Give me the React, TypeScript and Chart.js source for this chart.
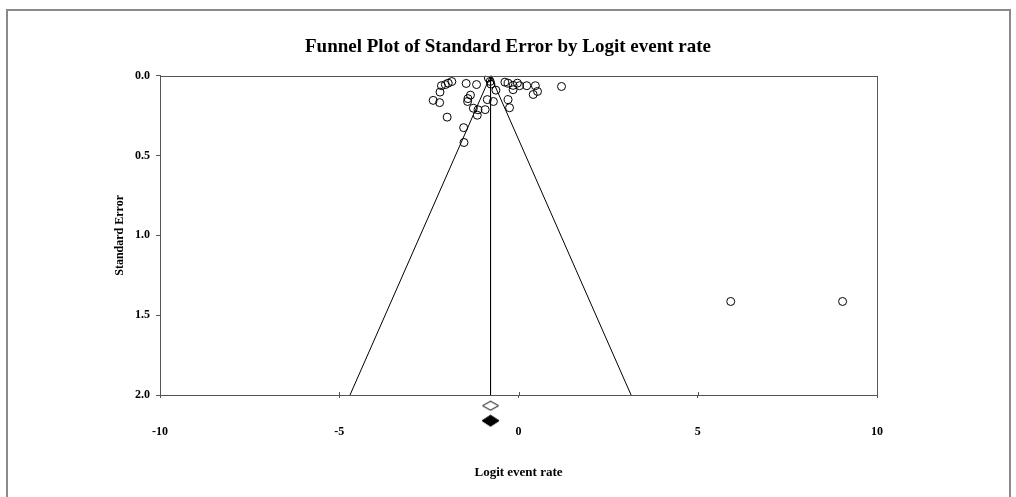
import React, { useEffect, useRef } from "react";
import { Chart, registerables } from "chart.js";

Chart.register(...registerables);

// Study-level data: logit event rate and its standard error
const studyLogit = [
  -0.84, -0.79, -0.77, -0.63, -0.87, -0.70, -0.93, -0.38, -0.29, -0.15,
  -0.03, 0.03, -0.15, 0.23, 0.47, 0.53, 0.41, -0.29, -0.25, 1.20,
  -1.86, -1.96, -2.04, -2.15, -2.19, -2.38, -2.20, -1.99, -1.46, -1.17,
  -1.34, -1.41, -1.42, -1.26, -1.13, -1.15, -1.53, -1.52, 5.92, 9.04,
];
const studySE = [
  0.014, 0.035, 0.052, 0.090, 0.149, 0.161, 0.212, 0.040, 0.046, 0.060,
  0.046, 0.062, 0.087, 0.062, 0.062, 0.098, 0.117, 0.149, 0.200, 0.067,
  0.036, 0.046, 0.055, 0.062, 0.102, 0.154, 0.168, 0.259, 0.048, 0.055,
  0.121, 0.143, 0.161, 0.203, 0.213, 0.247, 0.325, 0.418, 1.414, 1.414,
];

// Summary estimates (observed = open diamond, adjusted = filled diamond)
const pooledObserved = -0.78;
const pooledAdjusted = -0.78;
const summaryRowSE = [2.067, 2.161];

const funnelMaxSE = 2.0;
const zCrit = 1.96;

const xTicks = [-10, -5, 0, 5, 10];
const yTicks = [0.0, 0.5, 1.0, 1.5, 2.0];

const titleText = "Funnel Plot of Standard Error by Logit event rate";
const xTitle = "Logit event rate";
const yTitle = "Standard Error";

const FONT = "'Liberation Serif', 'Times New Roman', serif";

function makeDiamond(w: number, h: number, filled: boolean) {
  const c = document.createElement("canvas");
  c.width = w + 2;
  c.height = h + 2;
  const ctx = c.getContext("2d")!;
  ctx.beginPath();
  ctx.moveTo(w / 2 + 1, 1);
  ctx.lineTo(w + 1, h / 2 + 1);
  ctx.lineTo(w / 2 + 1, h + 1);
  ctx.lineTo(1, h / 2 + 1);
  ctx.closePath();
  ctx.fillStyle = filled ? "#000" : "#fff";
  ctx.fill();
  ctx.strokeStyle = "#000";
  ctx.lineWidth = 1;
  ctx.stroke();
  return c;
}

const framePlugin = {
  id: "frame",
  afterDatasetsDraw(chart: any) {
    const { ctx, chartArea } = chart;
    const xs = chart.scales.x;
    ctx.save();
    ctx.strokeStyle = "#555";
    ctx.lineWidth = 1;
    ctx.strokeRect(
      Math.round(chartArea.left) + 0.5,
      Math.round(chartArea.top) + 0.5,
      Math.round(chartArea.right - chartArea.left),
      Math.round(chartArea.bottom - chartArea.top)
    );
    // inner half of the crossing x tick marks
    ctx.beginPath();
    xs.ticks.forEach((t: any) => {
      const px = Math.round(xs.getPixelForValue(t.value)) + 0.5;
      ctx.moveTo(px, chartArea.bottom);
      ctx.lineTo(px, chartArea.bottom - 3);
    });
    ctx.stroke();
    ctx.restore();
  },
};

export default function App() {
  const canvasRef = useRef<HTMLCanvasElement | null>(null);

  useEffect(() => {
    if (!canvasRef.current) return;
    const points = studyLogit.map((x, i) => ({ x, y: studySE[i] }));
    const chart = new Chart(canvasRef.current, {
      type: "scatter",
      data: {
        datasets: [
          {
            label: "Funnel",
            data: [
              { x: pooledObserved - zCrit * funnelMaxSE, y: funnelMaxSE },
              { x: pooledObserved, y: 0 },
              { x: pooledObserved + zCrit * funnelMaxSE, y: funnelMaxSE },
            ],
            showLine: true,
            borderColor: "#000",
            borderWidth: 1,
            pointRadius: 0,
            fill: false,
          },
          {
            label: "Mean",
            data: [
              { x: pooledObserved, y: 0 },
              { x: pooledObserved, y: funnelMaxSE },
            ],
            showLine: true,
            borderColor: "#000",
            borderWidth: 1,
            pointRadius: 0,
            fill: false,
          },
          {
            label: "Studies",
            data: points,
            pointStyle: "circle",
            pointRadius: 4,
            borderColor: "#000",
            borderWidth: 1,
            backgroundColor: "rgba(255,255,255,0)",
          },
          {
            label: "Observed",
            data: [{ x: pooledObserved, y: summaryRowSE[0] }],
            pointStyle: makeDiamond(16, 9, false) as any,
            pointRadius: 40,
            borderWidth: 0,
            clip: false as any,
          },
          {
            label: "Adjusted",
            data: [{ x: pooledAdjusted, y: summaryRowSE[1] }],
            pointStyle: makeDiamond(17, 11, true) as any,
            pointRadius: 40,
            borderWidth: 0,
            clip: false as any,
          },
        ],
      },
      options: {
        animation: false,
        responsive: true,
        maintainAspectRatio: false,
        events: [],
        layout: { padding: 0 },
        plugins: {
          legend: { display: false },
          tooltip: { enabled: false },
          title: {
            display: true,
            text: titleText,
            color: "#000",
            font: { family: FONT, size: 19, weight: "bold", lineHeight: 1.2 },
            padding: { top: 36, bottom: 17 },
          },
        },
        scales: {
          x: {
            type: "linear",
            min: -10,
            max: 10,
            afterBuildTicks: (s: any) => {
              s.ticks = xTicks.map((v) => ({ value: v }));
            },
            afterFit: (s: any) => {
              s.height = 102;
            },
            ticks: {
              color: "#000",
              font: { family: FONT, size: 12, weight: "bold" },
              padding: 27,
              callback: (v: any) => String(v),
            },
            grid: {
              drawOnChartArea: false,
              drawTicks: true,
              tickLength: 3,
              color: "#555",
            },
            border: { color: "#555", width: 1 },
            title: {
              display: true,
              text: xTitle,
              color: "#000",
              font: { family: FONT, size: 13, weight: "bold", lineHeight: 1.2 },
              padding: { top: 0, bottom: 17 },
            },
          },
          y: {
            type: "linear",
            reverse: true,
            min: 0,
            max: 2,
            afterBuildTicks: (s: any) => {
              s.ticks = yTicks.map((v) => ({ value: v }));
            },
            afterFit: (s: any) => {
              s.width = 160;
            },
            ticks: {
              color: "#000",
              font: { family: FONT, size: 12, weight: "bold" },
              padding: 6,
              callback: (v: any) => Number(v).toFixed(1),
            },
            grid: {
              drawOnChartArea: false,
              drawTicks: true,
              tickLength: 4,
              color: "#555",
            },
            border: { color: "#555", width: 1 },
            title: {
              display: true,
              text: yTitle,
              color: "#000",
              font: { family: FONT, size: 12, weight: "bold", lineHeight: 1.2 },
              padding: { top: 113, bottom: 0 },
            },
          },
          yRightSpace: {
            type: "linear",
            position: "right",
            display: true,
            afterFit: (s: any) => {
              s.width = 139;
            },
            ticks: { display: false },
            grid: { display: false, drawTicks: false },
            border: { display: false },
            title: { display: false },
          },
        },
      },
      plugins: [framePlugin],
    });
    return () => chart.destroy();
  }, []);

  return (
    <div
      style={{
        position: "fixed",
        left: 0,
        top: 0,
        width: 1016,
        height: 497,
        overflow: "hidden",
        background: "#fff",
      }}
    >
      <div
        style={{
          position: "absolute",
          left: 6,
          top: 9,
          width: 1005,
          height: 600,
          boxSizing: "border-box",
          border: "2px solid #8a8a8a",
        }}
      />
      <div
        style={{
          position: "absolute",
          left: 0,
          top: 0,
          width: 1016,
          height: 497,
        }}
      >
        <canvas ref={canvasRef} />
      </div>
    </div>
  );
}
